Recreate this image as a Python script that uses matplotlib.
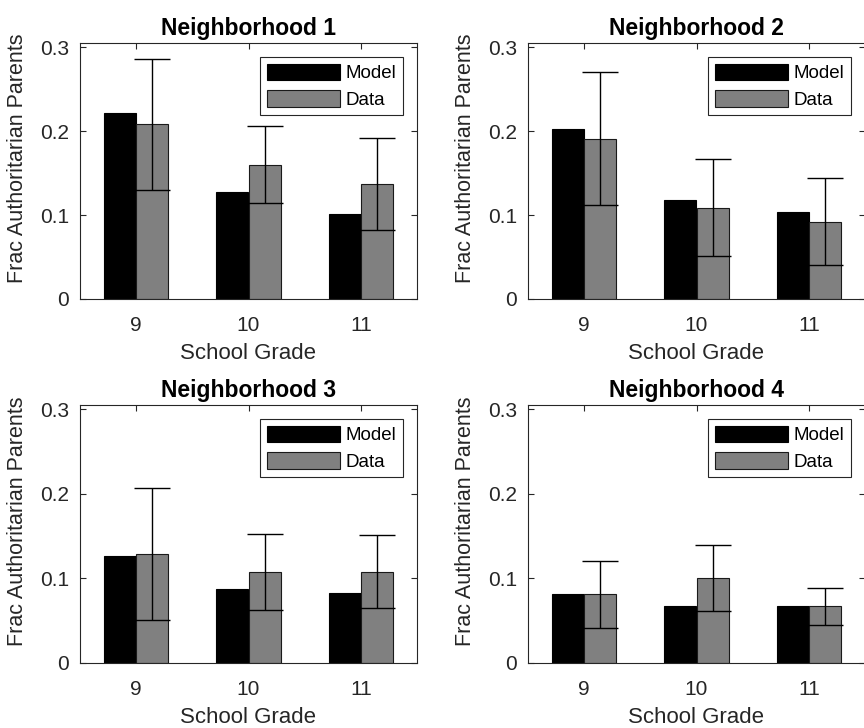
import numpy as np
from matplotlib import pyplot as plt

# 数据
grades = [9, 10, 11]
titles = ["Neighborhood 1", "Neighborhood 2", "Neighborhood 3", "Neighborhood 4"]
model_vals = [[0.222, 0.128, 0.101],
              [0.202, 0.118, 0.104],
              [0.127, 0.087, 0.083],
              [0.081, 0.067, 0.067]]
data_vals = [[0.208, 0.160, 0.137],
             [0.191, 0.109, 0.092],
             [0.129, 0.108, 0.108],
             [0.081, 0.100, 0.067]]
data_err = [[0.078, 0.046, 0.055],
            [0.079, 0.058, 0.052],
            [0.078, 0.045, 0.043],
            [0.040, 0.039, 0.022]]

plt.rcParams['font.family'] = ['Liberation Sans', 'DejaVu Sans']
dark = (0.15, 0.15, 0.15)

W, H = 864, 728
fig = plt.figure(figsize=(W / 100, H / 100), dpi=100)

# 每个子图的像素位置 (left, top, width, height)
boxes = [(80, 43, 337, 256), (528, 43, 337, 256),
         (80, 405, 337, 258), (528, 405, 337, 258)]

bar_width = 0.286
x = np.array(grades, dtype=float)

for i, (l, t, w, h) in enumerate(boxes):
    ax = fig.add_axes([l / W, 1 - (t + h) / H, w / W, h / H])
    ax.bar(x - bar_width / 2, model_vals[i], width=bar_width, color="black",
           edgecolor="black", linewidth=0.8, label="Model", zorder=2)
    ax.bar(x + bar_width / 2, data_vals[i], width=bar_width, color="#808080",
           edgecolor="#1a1a1a", linewidth=0.8, label="Data", zorder=2)
    ax.errorbar(x + bar_width / 2, data_vals[i], yerr=data_err[i], fmt="none",
                ecolor="black", elinewidth=1.0, capsize=13, capthick=1.0, zorder=3)

    ax.set_xlim(8.5, 11.5)
    ax.set_ylim(0, 0.305)
    ax.set_xticks(grades)
    ax.set_yticks([0, 0.1, 0.2, 0.3])
    ax.set_yticklabels(["0", "0.1", "0.2", "0.3"])
    ax.tick_params(direction="in", top=True, right=True, length=4, width=0.8,
                   labelsize=15, colors=dark)
    ax.tick_params(axis="x", pad=12.5)
    ax.tick_params(axis="y", pad=8)
    for s in ax.spines.values():
        s.set_color(dark)
        s.set_linewidth(0.8)

    ax.set_title(titles[i], fontsize=16.5, fontweight="bold", pad=6)
    ax.set_xlabel("School Grade", fontsize=16, color=dark, labelpad=5.5)
    ax.set_ylabel("Frac Authoritarian Parents", fontsize=15.5, color=dark)
    ax.yaxis.set_label_coords(-52 / w, 0.55)

    leg = ax.legend(loc="upper right", fontsize=13.5, fancybox=False,
                    edgecolor=dark, framealpha=1, handlelength=3.9,
                    handleheight=1.0, handletextpad=0.3, labelspacing=0.4,
                    borderaxespad=0.75, borderpad=0.35)
    leg.get_frame().set_linewidth(0.8)

fig.savefig("out.png", dpi=100)
